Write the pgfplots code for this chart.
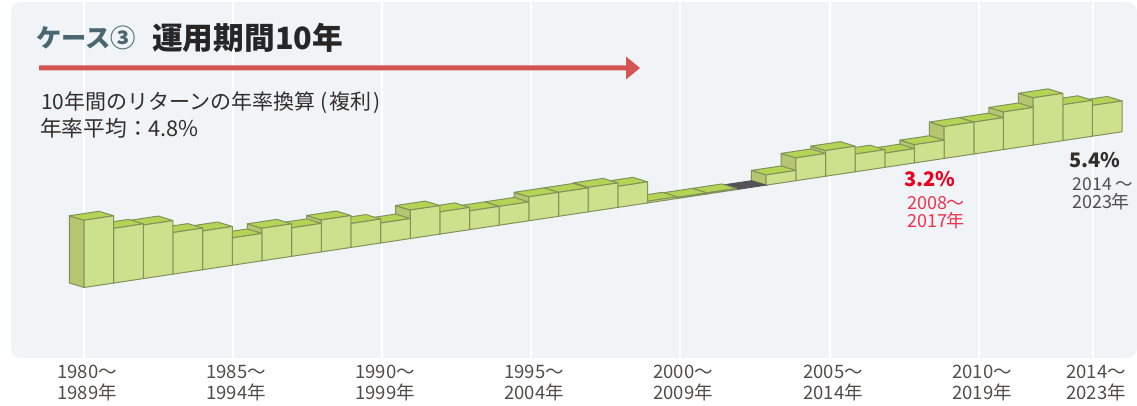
\documentclass[border=0pt]{standalone}
\usepackage{pgfplots}
\pgfplotsset{compat=1.18}
\usepackage{fontspec}
\setmainfont{Noto Sans CJK JP}
\usetikzlibrary{arrows.meta}
\definecolor{panel}{HTML}{F0F4F7}
\definecolor{faceF}{HTML}{CDE08B}
\definecolor{faceT}{HTML}{B4D456}
\definecolor{faceS}{HTML}{B5C570}
\definecolor{barEdge}{HTML}{82915A}
\definecolor{darkbar}{HTML}{55525A}
\definecolor{inkc}{HTML}{332E2C}
\definecolor{casec}{HTML}{4B6670}
\definecolor{arrowc}{HTML}{D45353}
\definecolor{lowc}{HTML}{EA0020}
\definecolor{lowt}{HTML}{EE3350}
% One oblique column: i0 and i1 bound it along the time axis, v is the annual return
\newcommand{\column}[3]{%
  \addplot3[draw=barEdge,fill=faceS,line width=1pt,line join=round,mark=none]
    coordinates {(#1,0,0) (#1,1,0) (#1,1,#3) (#1,0,#3) (#1,0,0)};
  \addplot3[draw=barEdge,fill=faceT,line width=1pt,line join=round,mark=none]
    coordinates {(#1,0,#3) (#2,0,#3) (#2,1,#3) (#1,1,#3) (#1,0,#3)};
  \addplot3[draw=barEdge,fill=faceF,line width=1pt,line join=round,mark=none]
    coordinates {(#1,0,0) (#2,0,0) (#2,0,#3) (#1,0,#3) (#1,0,0)};
}
\begin{document}
\begin{tikzpicture}
\path[use as bounding box] (0,0) rectangle (1137pt,405pt);
% Panel, period grid lines and period labels
\begin{axis}[
  at={(11pt,47pt)},anchor=south west,scale only axis,
  width=1126pt,height=356pt,
  xmin=11,xmax=1137,ymin=0,ymax=1,
  axis line style={draw=none},
  axis background/.style={fill=panel,rounded corners=10pt},
  xtick={84,233,382,531,680,830,979,1093},
  xticklabels={{1980～\\1989年},{1985～\\1994年},{1990～\\1999年},{1995～\\2004年},{2000～\\2009年},{2005～\\2014年},{2010～\\2019年},{2014～\\2023年}},
  ytick=\empty,
  xmajorgrids,
  major grid style={white,line width=1.5pt},
  major tick length=0pt,
  xticklabel style={align=center,text=inkc!85,font=\fontsize{18.5}{20.5}\selectfont,inner sep=0pt,xshift=3pt,yshift=-7pt},
]
\end{axis}
% Columns, painted from the far end towards the viewer
\begin{axis}[
  at={(84pt,117.5pt)},anchor=origin,
  x={(29.66pt,4.45pt)},y={(-14.7pt,4.5pt)},z={(0pt,5.7pt)},
  xmin=0,xmax=35,ymin=0,ymax=1,zmin=0,zmax=12,
  hide axis,clip=false,
]
\column{34}{35}{5.4}
\column{33}{34}{6.3}
\column{32}{33}{8.3}
\column{31}{32}{6.6}
\column{30}{31}{5.6}
\column{29}{30}{5.6}
\column{28}{29}{3.2}
\column{27}{28}{2.5}
\column{26}{27}{3.1}
\column{25}{26}{4.5}
\column{24}{25}{4.0}
\column{23}{24}{1.8}
\addplot3[draw=darkbar,fill=darkbar,line width=0.8pt,mark=none]
  coordinates {(22,0,0) (23,0,0) (23,1,0) (22,1,0) (22,0,0)};
\column{21}{22}{0.2}
\column{20}{21}{0.2}
\column{19}{20}{0.3}
\column{18}{19}{3.7}
\column{17}{18}{4.3}
\column{16}{17}{4.2}
\column{15}{16}{4.2}
\column{14}{15}{3.3}
\column{13}{14}{3.3}
\column{12}{13}{3.9}
\column{11}{12}{5.0}
\column{10}{11}{3.5}
\column{9}{10}{4.2}
\column{8}{9}{5.6}
\column{7}{8}{5.0}
\column{6}{7}{5.7}
\column{5}{6}{4.8}
\column{4}{5}{6.8}
\column{3}{4}{7.3}
\column{2}{3}{9.4}
\column{1}{2}{9.6}
\column{0}{1}{11.8}
\end{axis}
% Heading, span arrow and annotations, placed in page pixels from the top left
\begin{scope}[shift={(0pt,405pt)},x=1pt,y=-1pt]
\node[anchor=west,inner sep=0pt,text=casec,font=\fontsize{25.3}{28}\bfseries] at (36,38) {ケース③};
\node[anchor=west,inner sep=0pt,text=black!85,font=\fontsize{30.7}{32}\bfseries] at (152,38) {運用期間10年};
\fill[arrowc] (39,65.5) -- (626,65.5) -- (626,56.5) -- (640,68) -- (626,79.5) -- (626,70.5) -- (39,70.5) -- cycle;
\node[anchor=west,inner sep=0pt,text=inkc,font=\fontsize{21}{24}\selectfont] at (41,103) {10年間のリターンの年率換算\kern5pt(\kern2pt複利\kern2pt)};
\node[anchor=west,inner sep=0pt,text=inkc,font=\fontsize{21.7}{24}\selectfont] at (40,128) {年率平均：4.8\%};
\node[inner sep=0pt,text=lowc,font=\fontsize{20}{24}\bfseries] at (930,179) {3.2\%};
\node[inner sep=0pt,text=lowt,font=\fontsize{18}{20}\selectfont] at (936,203) {2008～};
\node[inner sep=0pt,text=lowt,font=\fontsize{18}{20}\selectfont] at (936,221) {2017年};
\node[inner sep=0pt,text=inkc,font=\fontsize{20}{24}\bfseries] at (1095,160) {5.4\%};
\node[inner sep=0pt,text=inkc!85,font=\fontsize{17.5}{20}\selectfont] at (1103,184) {2014 ～};
\node[inner sep=0pt,text=inkc!85,font=\fontsize{18}{20}\selectfont] at (1101,202) {2023年};
\end{scope}
\end{tikzpicture}
\end{document}
